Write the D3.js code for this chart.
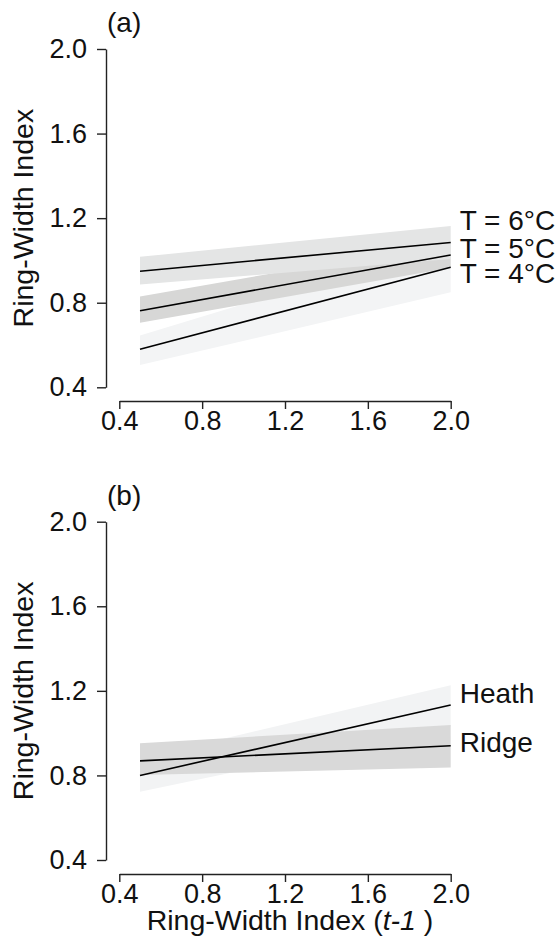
<!DOCTYPE html>
<html>
<head>
<meta charset="utf-8">
<script src="https://cdn.jsdelivr.net/npm/d3@7"></script>
<style>
	body { margin: 0; background: #fff; }
	text { font-family: 'Liberation Sans', Arial, sans-serif; fill: #111; }
</style>
</head>
<body>
<div id="chart-area"></div>
<script>
// x values at the ends of each fitted line
const xEnds = [0.5, 2.0];

// panel (a): temperature
const tempLabels = ['T = 4°C', 'T = 5°C', 'T = 6°C'];
const tempFit = [[0.580, 0.968], [0.762, 1.026], [0.949, 1.085]];
const tempLower = [[0.505, 0.849], [0.705, 0.966], [0.886, 1.007]];
const tempUpper = [[0.645, 1.090], [0.830, 1.086], [1.017, 1.163]];
const tempLabelAt = [0.891, 1.012, 1.145];

// panel (b): site
const siteLabels = ['Heath', 'Ridge'];
const siteFit = [[0.800, 1.133], [0.869, 0.940]];
const siteLower = [[0.723, 1.030], [0.802, 0.838]];
const siteUpper = [[0.880, 1.227], [0.952, 1.038]];
const siteLabelAt = [1.142, 0.912];

const tickValues = [0.4, 0.8, 1.2, 1.6, 2.0];

const width = 560;
const height = 942;
const tickFont = 27;
const labelFont = 28;
const titleFont = 28.5;

const svg = d3.select('#chart-area').append('svg')
	.attr('width', width)
	.attr('height', height);

// one panel = y axis, detached x axis, bands, lines and end labels
const drawPanel = (opts) => {
	const x = d3.scaleLinear()
		.domain([0.4, 2.0])
		.range([119.3, 450.7]);

	const y = d3.scaleLinear()
		.domain([0.4, 2.0])
		.range([opts.yBottom, opts.yTop]);

	const g = svg.append('g');

	// bands (opaque, drawn in order so later ones cover earlier)
	const area = d3.area()
		.x(d => x(d.x))
		.y0(d => y(d.lo))
		.y1(d => y(d.hi));

	opts.labels.forEach((lab, k) => {
		const pts = xEnds.map((xv, j) => ({ x: xv, lo: opts.lower[k][j], hi: opts.upper[k][j] }));
		g.append('path')
			.attr('d', area(pts))
			.attr('fill', opts.colours[k]);
	});

	const line = d3.line()
		.x(d => x(d.x))
		.y(d => y(d.v));

	opts.labels.forEach((lab, k) => {
		const pts = xEnds.map((xv, j) => ({ x: xv, v: opts.fit[k][j] }));
		g.append('path')
			.attr('d', line(pts))
			.attr('fill', 'none')
			.attr('stroke', '#000')
			.attr('stroke-width', 1.6);

		g.append('text')
			.attr('x', x(xEnds[1]) + 9)
			.attr('y', y(opts.labelAt[k]))
			.attr('font-size', labelFont + 'px')
			.text(lab);
	});

	// y axis
	const yAxis = g.append('g')
		.attr('transform', 'translate(106, 0)')
		.call(d3.axisLeft(y).tickValues(tickValues).tickFormat(d3.format('.1f'))
			.tickSize(9).tickSizeOuter(0).tickPadding(10));

	// x axis, set off below the plot like base R
	const xAxis = g.append('g')
		.attr('transform', `translate(0, ${opts.xAxisY})`)
		.call(d3.axisBottom(x).tickValues(tickValues).tickFormat(d3.format('.1f'))
			.tickSize(8).tickSizeOuter(0).tickPadding(2));

	[yAxis, xAxis].forEach(ax => {
		ax.select('.domain').attr('stroke', '#222').attr('stroke-width', 1.4);
		ax.selectAll('.tick line').attr('stroke', '#222').attr('stroke-width', 1.4);
		ax.selectAll('.tick text')
			.attr('font-size', tickFont + 'px')
			.attr('font-family', 'Liberation Sans, Arial, sans-serif')
			.attr('fill', '#111');
	});

	// y axis title
	g.append('text')
		.attr('transform', `translate(33, ${(opts.yTop + opts.yBottom) / 2}) rotate(-90)`)
		.attr('text-anchor', 'middle')
		.attr('font-size', titleFont + 'px')
		.text('Ring-Width Index');

	// panel letter
	g.append('text')
		.attr('x', 107)
		.attr('y', opts.yTop - 17)
		.attr('font-size', labelFont + 'px')
		.text(opts.letter);

	return { x, y, g };
};

drawPanel({
	letter: '(a)',
	yTop: 49,
	yBottom: 387.3,
	xAxisY: 401,
	labels: tempLabels,
	fit: tempFit,
	lower: tempLower,
	upper: tempUpper,
	labelAt: tempLabelAt,
	colours: ['#f3f4f5', '#d7d7d6', '#e4e5e5']
});

drawPanel({
	letter: '(b)',
	yTop: 521.7,
	yBottom: 860,
	xAxisY: 874,
	labels: siteLabels,
	fit: siteFit,
	lower: siteLower,
	upper: siteUpper,
	labelAt: siteLabelAt,
	colours: ['#f2f3f4', '#d9d9d9']
});

// x axis title (only under the bottom panel)
const xTitle = svg.append('text')
	.attr('x', 290)
	.attr('y', 930)
	.attr('text-anchor', 'middle')
	.attr('font-size', '28.5px');
xTitle.append('tspan').text('Ring-Width Index (');
xTitle.append('tspan').attr('font-style', 'italic').text('t-1');
xTitle.append('tspan').text(' )');
</script>
</body>
</html>
